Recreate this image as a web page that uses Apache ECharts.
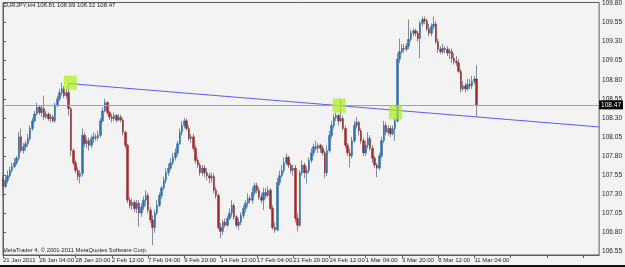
<!DOCTYPE html>
<html lang="en">
<head>
<meta charset="UTF-8">
<title>EURJPY,H4</title>
<script src="https://cdn.jsdelivr.net/npm/echarts@6/dist/echarts.min.js"></script>
<style>
  html, body { margin: 0; padding: 0; background: #f3f3f3; }
  #chart { width: 625px; height: 267px; }
</style>
</head>
<body>
<div id="chart"></div>
<script>
// EURJPY H4, 21 Jan 2011 12:00 .. 11 Mar 2011 08:00 (210 bars)
var openP = [
  107.51,107.40,107.48,107.54,107.61,107.66,107.71,107.77,108.05,107.87,
  107.92,107.96,108.03,108.16,108.26,108.35,108.44,108.37,108.42,108.31,
  108.35,108.29,108.31,108.26,108.47,108.55,108.63,108.68,108.59,108.63,
  108.42,107.87,107.71,107.61,107.53,107.57,108.07,107.96,108.00,107.94,
  108.03,108.05,108.04,108.07,108.26,108.39,108.50,108.37,108.31,108.29,
  108.33,108.27,108.31,108.27,108.11,107.94,107.22,107.15,107.19,107.11,
  107.18,107.05,107.13,107.22,107.28,107.09,106.96,106.86,107.05,107.15,
  107.28,107.38,107.48,107.58,107.64,107.71,107.78,107.84,107.96,108.11,
  108.20,108.26,108.16,108.03,108.05,107.90,107.74,107.68,107.58,107.64,
  107.58,107.54,107.51,107.53,107.35,107.28,106.86,106.81,106.93,106.89,
  106.98,107.05,107.15,107.00,106.89,106.93,107.02,107.11,107.18,107.24,
  107.22,107.32,107.41,107.35,107.26,107.22,107.32,107.28,107.35,107.11,
  106.86,106.83,107.45,107.54,107.61,107.71,107.78,107.68,107.61,107.64,
  106.98,106.89,107.58,107.68,107.58,107.61,107.74,107.84,107.92,107.90,
  107.94,107.90,107.84,107.58,107.87,108.07,108.20,108.30,108.33,108.26,
  108.29,108.16,107.94,107.84,107.80,108.00,108.20,108.24,108.13,108.00,
  107.84,107.94,108.03,107.90,107.77,107.68,107.64,107.80,108.00,108.20,
  108.11,108.16,108.09,108.16,108.26,109.07,109.17,109.21,109.20,109.24,
  109.33,109.41,109.44,109.41,109.34,109.54,109.59,109.57,109.47,109.41,
  109.50,109.53,109.30,109.20,109.17,109.21,109.20,109.15,109.17,109.08,
  109.04,109.02,108.91,108.68,108.72,108.68,108.74,108.72,108.78,108.81
];
var closeP = [
  107.40,107.48,107.54,107.61,107.66,107.71,107.77,108.05,107.87,107.92,
  107.96,108.03,108.16,108.26,108.35,108.44,108.37,108.42,108.31,108.35,
  108.29,108.31,108.26,108.47,108.55,108.63,108.68,108.59,108.63,108.42,
  107.87,107.71,107.61,107.53,107.57,108.07,107.96,108.00,107.94,108.03,
  108.05,108.04,108.07,108.26,108.39,108.50,108.37,108.31,108.29,108.33,
  108.27,108.31,108.27,108.11,107.94,107.22,107.15,107.19,107.11,107.18,
  107.05,107.13,107.22,107.28,107.09,106.96,106.86,107.05,107.15,107.28,
  107.38,107.48,107.58,107.64,107.71,107.78,107.84,107.96,108.11,108.20,
  108.26,108.16,108.03,108.05,107.90,107.74,107.68,107.58,107.64,107.58,
  107.54,107.51,107.53,107.35,107.28,106.86,106.81,106.93,106.89,106.98,
  107.05,107.15,107.00,106.89,106.93,107.02,107.11,107.18,107.24,107.22,
  107.32,107.41,107.35,107.26,107.22,107.32,107.28,107.35,107.11,106.86,
  106.83,107.45,107.54,107.61,107.71,107.78,107.68,107.61,107.64,106.98,
  106.89,107.58,107.68,107.58,107.61,107.74,107.84,107.92,107.90,107.94,
  107.90,107.84,107.58,107.87,108.07,108.20,108.30,108.33,108.26,108.29,
  108.16,107.94,107.84,107.80,108.00,108.20,108.24,108.13,108.00,107.84,
  107.94,108.03,107.90,107.77,107.68,107.64,107.80,108.00,108.20,108.11,
  108.16,108.09,108.16,108.26,109.07,109.17,109.21,109.20,109.24,109.33,
  109.41,109.44,109.41,109.34,109.54,109.59,109.57,109.47,109.41,109.50,
  109.53,109.30,109.20,109.17,109.21,109.20,109.15,109.17,109.08,109.04,
  109.02,108.91,108.68,108.72,108.68,108.74,108.72,108.78,108.81,108.47
];
var lowP = [
  107.26,107.38,107.44,107.51,107.58,107.64,107.68,107.74,107.84,107.83,
  107.87,107.92,108.00,108.13,108.24,108.33,108.34,108.31,108.27,108.29,
  108.26,108.24,108.24,108.24,108.44,108.52,108.59,108.56,108.55,108.33,
  107.80,107.68,107.57,107.48,107.44,107.53,107.92,107.90,107.87,107.90,
  107.97,108.00,108.00,108.04,108.24,108.37,108.34,108.27,108.24,108.26,
  108.24,108.26,108.24,108.07,107.90,107.18,107.11,107.09,107.06,107.05,
  106.87,107.00,107.09,107.15,107.05,106.92,106.63,106.79,107.02,107.13,
  107.24,107.35,107.44,107.54,107.61,107.68,107.74,107.80,107.94,108.07,
  108.16,108.13,108.00,107.97,107.87,107.70,107.64,107.54,107.54,107.52,
  107.48,107.44,107.45,107.31,107.24,106.83,106.72,106.76,106.86,106.87,
  106.96,107.00,106.96,106.86,106.83,106.89,106.98,107.06,107.13,107.18,
  107.18,107.28,107.31,107.22,107.18,107.09,107.24,107.26,107.09,106.83,
  106.79,106.81,107.41,107.51,107.57,107.68,107.64,107.57,107.54,106.93,
  106.81,106.87,107.54,107.51,107.44,107.57,107.71,107.80,107.87,107.84,
  107.84,107.80,107.51,107.54,107.84,108.03,108.16,108.26,108.20,108.24,
  108.13,107.90,107.80,107.65,107.77,107.97,108.16,108.07,107.96,107.80,
  107.80,107.90,107.87,107.71,107.64,107.52,107.61,107.77,107.97,108.07,
  108.07,108.05,108.07,108.00,108.24,109.02,109.14,109.15,109.17,109.20,
  109.30,109.37,109.37,109.30,109.08,109.50,109.53,109.44,109.37,109.37,
  109.46,109.27,109.15,109.14,109.14,109.15,109.11,109.07,109.02,109.00,
  108.98,108.89,108.63,108.65,108.63,108.65,108.68,108.68,108.74,108.32
];
var highP = [
  107.58,107.53,107.61,107.66,107.71,107.77,107.80,108.11,108.16,107.97,
  108.00,108.09,108.20,108.30,108.39,108.50,108.47,108.46,108.59,108.39,
  108.37,108.35,108.34,108.50,108.59,108.68,108.76,108.72,108.68,108.75,
  108.44,107.90,107.74,107.65,107.61,108.16,108.11,108.04,108.04,108.07,
  108.11,108.09,108.13,108.30,108.44,108.55,108.52,108.39,108.35,108.37,
  108.35,108.35,108.34,108.30,108.13,107.96,107.26,107.24,107.22,107.22,
  107.22,107.18,107.27,107.35,107.32,107.13,107.02,107.09,107.22,107.32,
  107.41,107.53,107.64,107.70,107.77,107.84,107.90,108.00,108.16,108.26,
  108.30,108.29,108.20,108.09,108.09,107.94,107.78,107.71,107.68,107.68,
  107.64,107.58,107.58,107.57,107.39,107.31,106.92,106.96,106.98,107.02,
  107.11,107.22,107.18,107.02,106.98,107.06,107.15,107.22,107.31,107.28,
  107.39,107.45,107.45,107.39,107.31,107.38,107.38,107.40,107.38,107.15,
  106.93,107.51,107.61,107.68,107.78,107.83,107.80,107.71,107.68,107.68,
  107.05,107.61,107.74,107.71,107.66,107.78,107.90,107.96,108.00,107.97,
  107.96,107.94,107.87,107.94,108.13,108.26,108.35,108.37,108.35,108.55,
  108.33,108.20,107.97,107.90,108.05,108.26,108.31,108.26,108.16,108.04,
  108.00,108.11,108.07,107.94,107.80,107.71,107.84,108.05,108.26,108.24,
  108.20,108.20,108.20,108.30,109.15,109.34,109.27,109.27,109.28,109.59,
  109.46,109.47,109.47,109.44,109.57,109.63,109.63,109.60,109.53,109.54,
  109.63,109.57,109.34,109.24,109.27,109.24,109.24,109.21,109.21,109.15,
  109.11,109.07,108.94,108.78,108.76,108.81,108.81,108.85,108.85,108.99
];

// time labels, one every 16 bars
var xLabels = ['21 Jan 2011','26 Jan 04:00','28 Jan 20:00','2 Feb 12:00','7 Feb 04:00',
  '9 Feb 20:00','14 Feb 12:00','17 Feb 04:00','21 Feb 20:00','24 Feb 12:00',
  '1 Mar 04:00','3 Mar 20:00','8 Mar 12:00','11 Mar 04:00'];
var yTicks = [106.55,106.80,107.05,107.30,107.55,107.80,108.05,108.30,108.55,108.80,109.05,109.30,109.55,109.80];

// drawn objects: trend line (bar index, price) and the three marker squares
var trendX = [29, 263];
var trendY = [108.75, 108.18];
var boxX = [29.7, 148.3, 173.2];
var boxY = [108.76, 108.46, 108.37];
var lastPrice = 108.47;

var slots = 264; // bars + empty shift area on the right
var cats = [];
for (var i = 0; i < slots; i++) cats.push(String(i));

var wickData = [], bodyData = [];
for (var i = 0; i < openP.length; i++) {
    wickData.push([openP[i], closeP[i], lowP[i], highP[i]]);
    bodyData.push([openP[i], closeP[i], Math.min(openP[i], closeP[i]), Math.max(openP[i], closeP[i])]);
}

var chart = echarts.init(document.getElementById('chart'));
var txt = '#1e1e1e';
var frame = '#5e5e5e';
var narrow = "'Liberation Sans Narrow', 'Liberation Sans', sans-serif";

var option = {
    animation: false,
    backgroundColor: '#f3f3f3',
    textStyle: { fontFamily: narrow },
    grid: { left: 2, right: 22, top: 1, bottom: 12, show: true, borderColor: frame, borderWidth: 1 },
    xAxis: [
        {
            type: 'category',
            data: cats,
            boundaryGap: false,
            axisLine: { lineStyle: { color: frame } },
            axisTick: { interval: 15, length: 3, lineStyle: { color: frame } },
            axisLabel: {
                interval: 15,
                align: 'left',
                margin: 2,
                fontSize: 6,
                fontFamily: narrow,
                color: txt,
                formatter: function (v, idx) { return xLabels[idx / 16] || ''; }
            },
            splitLine: { show: false }
        },
        { type: 'value', min: 0, max: slots - 1, show: false }
    ],
    yAxis: {
        type: 'value',
        position: 'right',
        min: 106.50,
        max: 109.813,
        splitLine: { show: false },
        axisLine: { show: true, lineStyle: { color: frame } },
        axisTick: { show: true, length: 3, customValues: yTicks, lineStyle: { color: frame } },
        axisLabel: {
            customValues: yTicks,
            margin: 3,
            fontSize: 6.5,
            fontFamily: narrow,
            color: txt,
            formatter: function (v) { return v.toFixed(2); }
        }
    },
    series: [
        {
            name: 'wick',
            type: 'candlestick',
            data: wickData,
            barWidth: 1,
            itemStyle: {
                color: 'transparent', color0: 'transparent',
                borderColor: '#7f8d98', borderColor0: '#7f8d98', borderColorDoji: '#7f8d98',
                borderWidth: 1
            },
            z: 2
        },
        {
            name: 'body',
            type: 'candlestick',
            data: bodyData,
            barWidth: 2,
            itemStyle: {
                color: '#2e6fae', color0: '#a3282a',
                borderColor: '#2e6fae', borderColor0: '#a3282a', borderColorDoji: '#2e6fae',
                borderWidth: 0.5
            },
            markLine: {
                silent: true,
                symbol: 'none',
                lineStyle: { color: '#a2a2a2', width: 1, type: 'solid' },
                label: {
                    position: 'end',
                    distance: 0,
                    formatter: lastPrice.toFixed(2),
                    color: '#fff',
                    backgroundColor: '#000',
                    fontSize: 6.5,
                    fontFamily: narrow,
                    padding: [1, 2]
                },
                data: [{ yAxis: lastPrice }]
            },
            z: 3
        },
        {
            name: 'trend',
            type: 'line',
            xAxisIndex: 1,
            data: [[trendX[0], trendY[0]], [trendX[1], trendY[1]]],
            symbol: 'none',
            lineStyle: { color: '#5c5cf5', width: 1 },
            z: 4
        },
        {
            name: 'marks',
            type: 'scatter',
            xAxisIndex: 1,
            data: boxX.map(function (x, k) { return [x, boxY[k]]; }),
            symbol: 'rect',
            symbolSize: [13, 14],
            itemStyle: { color: 'rgba(172,240,20,0.88)' },
            z: 5
        }
    ],
    graphic: [
        {
            type: 'text', left: 3, top: 2,
            style: { text: 'EURJPY,H4 108.81 108.99 108.32 108.47', fontSize: 6, fill: txt, fontFamily: narrow }
        },
        {
            type: 'text', left: 3, top: 247,
            style: { text: 'MetaTrader 4, \u00a9 2001-2011 MetaQuotes Software Corp.', fontSize: 5.8, fill: txt, fontFamily: 'Liberation Sans' }
        },
        {
            type: 'rect', left: 0, top: 265,
            shape: { width: 625, height: 2 },
            style: { fill: '#111' }
        }
    ]
};
chart.setOption(option);
</script>
</body>
</html>
